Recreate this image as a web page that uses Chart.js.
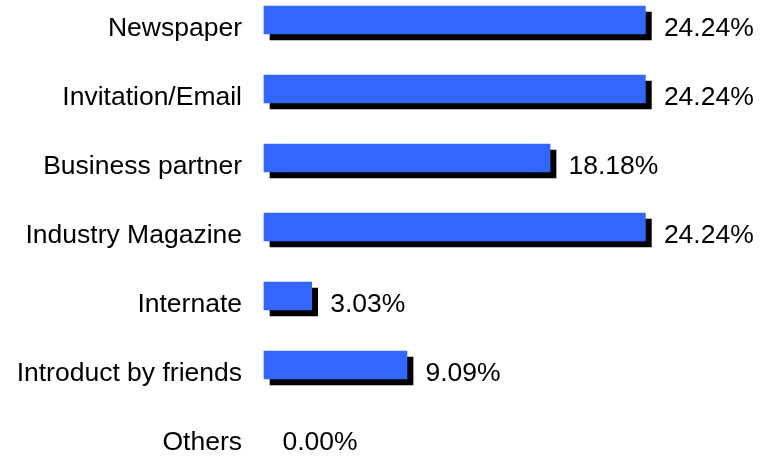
<!DOCTYPE html>
<html>
<head>
<meta charset="utf-8">
<script src="https://cdn.jsdelivr.net/npm/chart.js@4/dist/chart.umd.min.js"></script>
<style>
  html, body { margin: 0; padding: 0; background: #fff; }
  #chart { display: block; }
</style>
</head>
<body>
<canvas id="chart" width="760" height="461"></canvas>
<script>
const categories = ['Newspaper', 'Invitation/Email', 'Business partner', 'Industry Magazine', 'Internate', 'Introduct by friends', 'Others'];
const shares = [24.24, 24.24, 18.18, 24.24, 3.03, 9.09, 0.00];

const FONT = { family: '"Liberation Sans", Arial, sans-serif', size: 26.5 };
const LABEL_SHIFT = 9;

// hard black drop shadow behind each bar
const barShadow = {
  id: 'barShadow',
  beforeDatasetDraw(chart) {
    const ctx = chart.ctx;
    ctx.save();
    ctx.shadowColor = '#000';
    ctx.shadowBlur = 0;
    ctx.shadowOffsetX = 6;
    ctx.shadowOffsetY = 6;
  },
  afterDatasetDraw(chart) {
    chart.ctx.restore();
  }
};

// percentage text to the right of each bar
const valueLabels = {
  id: 'valueLabels',
  afterDatasetsDraw(chart) {
    const ctx = chart.ctx;
    const meta = chart.getDatasetMeta(0);
    ctx.save();
    ctx.font = FONT.size + 'px ' + FONT.family;
    ctx.fillStyle = '#000';
    ctx.textAlign = 'left';
    ctx.textBaseline = 'middle';
    meta.data.forEach((bar, i) => {
      ctx.fillText(shares[i].toFixed(2) + '%', bar.x + 18.5, bar.y + LABEL_SHIFT);
    });
    ctx.restore();
  }
};

new Chart(document.getElementById('chart'), {
  type: 'bar',
  data: {
    labels: categories,
    datasets: [{
      data: shares,
      backgroundColor: c => c.raw > 0 ? '#3366ff' : 'transparent',
      borderWidth: 0,
      barThickness: 28,
      clip: false
    }]
  },
  options: {
    indexAxis: 'y',
    responsive: false,
    animation: false,
    devicePixelRatio: 1,
    layout: { padding: { left: 0, right: 24, top: 20, bottom: 27 } },
    plugins: {
      legend: { display: false },
      tooltip: { enabled: false }
    },
    scales: {
      x: {
        display: false,
        min: 0,
        max: 30
      },
      y: {
        offset: false,
        grid: { display: false, drawTicks: false },
        border: { display: false },
        ticks: {
          color: '#000',
          font: FONT,
          padding: 22,
          labelOffset: LABEL_SHIFT
        },
        afterFit(scale) {
          scale.width = 264;
          scale.paddingTop = 0;
          scale.paddingBottom = 0;
        }
      }
    }
  },
  plugins: [barShadow, valueLabels]
});
</script>
</body>
</html>
